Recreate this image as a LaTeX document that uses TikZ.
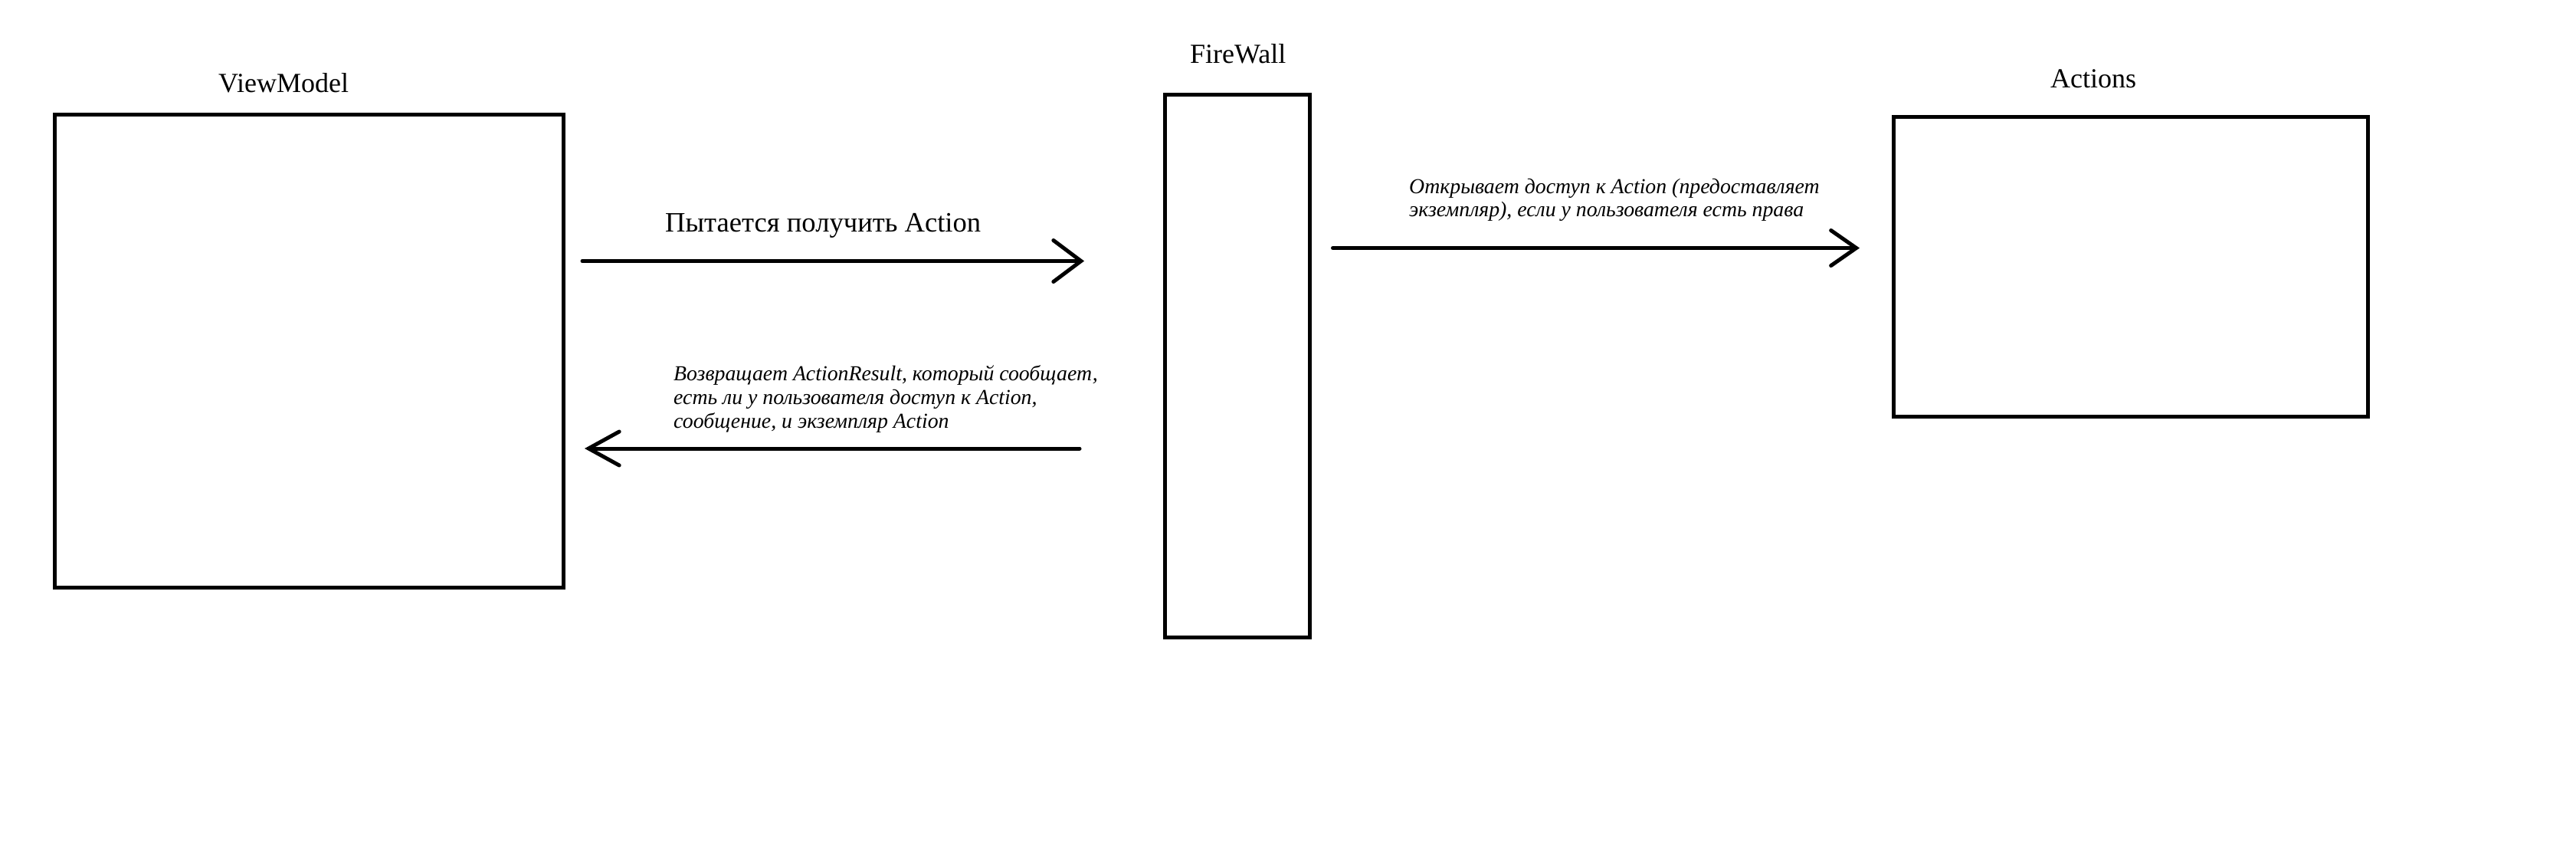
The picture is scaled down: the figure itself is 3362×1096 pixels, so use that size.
\documentclass[tikz,border=0pt]{standalone}
\usepackage{fontspec}
\setmainfont{Liberation Serif}
\usetikzlibrary{arrows.meta}
\tikzset{
  box/.style={draw, line width=5pt, inner sep=0pt, outer sep=0pt, anchor=north west},
  conn/.style={line width=5pt, line cap=round},
  big/.style={anchor=base west, inner sep=0pt, font=\fontsize{36}{41}\selectfont},
  note/.style={anchor=base west, inner sep=0pt, align=left, font=\fontsize{27.8}{31}\selectfont\itshape},
}
\begin{document}
\begin{tikzpicture}[x=1pt,y=-1pt]
\useasboundingbox[fill=white] (0,0) rectangle (3362,1096);
% boxes
\node[box, minimum width=664.5pt, minimum height=617pt] (vm) at (71,149) {};
\node[box, minimum width=188.5pt, minimum height=708pt] (fw) at (1520.5,123) {};
\node[box, minimum width=619pt, minimum height=391pt] (act) at (2471.5,152) {};
% titles
\node[big] (tvm) at (285,120) {ViewModel};
\node[big] (tfw) at (1553,82) {FireWall};
\node[big] (tact) at (2676,114) {Actions};
% arrow labels
\node[big, font=\fontsize{36.6}{42}\selectfont] (l1) at (868,302) {Пытается получить Action};
\node[note] (l2) at (879,558) {Возвращает ActionResult, который сообщает,\\есть ли у пользователя доступ к Action,\\сообщение, и экземпляр Action};
\node[note, font=\fontsize{27.8}{30}\selectfont\itshape] (l3) at (1839,282) {Открывает доступ к Action (предоставляет\\экземпляр), если у пользователя есть права};
% connectors
\coordinate (a1s) at (760,340.5);
\coordinate (a1e) at (1415,340.5);
\coordinate (a2s) at (1409,585);
\coordinate (a2e) at (763,585);
\coordinate (a3s) at (1739.5,323.5);
\coordinate (a3e) at (2427,323.5);
\draw[conn, -{Straight Barb[length=36pt,width=54pt,line cap=round]}] (a1s) -- (a1e);
\draw[conn, -{Straight Barb[length=40pt,width=44pt,line cap=round]}] (a2s) -- (a2e);
\draw[conn, -{Straight Barb[length=33pt,width=46pt,line cap=round]}] (a3s) -- (a3e);
\end{tikzpicture}
\end{document}
